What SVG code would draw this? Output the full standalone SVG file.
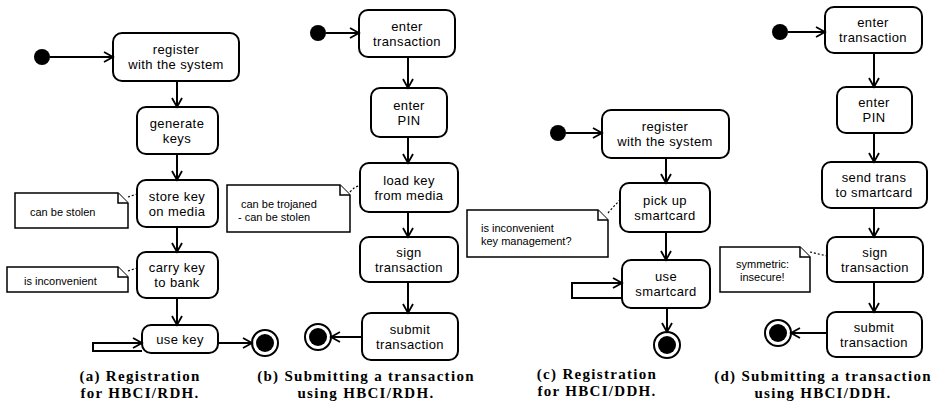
<svg xmlns="http://www.w3.org/2000/svg" width="946" height="403" viewBox="0 0 946 403">
<defs>
<marker id="arr" markerUnits="userSpaceOnUse" markerWidth="12" markerHeight="12" refX="10" refY="6" orient="auto">
<path d="M1,1 L10,6 L1,11" fill="none" stroke="#000" stroke-width="1.8"/>
</marker>
<style>
.box{fill:#fff;stroke:#000;stroke-width:2}
.t{font-family:"Liberation Sans",Arial,sans-serif;font-size:13px;letter-spacing:0.4px;text-anchor:middle;fill:#000}
.nt{font-family:"Liberation Sans",Arial,sans-serif;font-size:11px;fill:#000}
.note{fill:#fff;stroke:#000;stroke-width:1.5}
.c{fill:none;stroke:#000;stroke-width:2;marker-end:url(#arr)}
.d{fill:none;stroke:#000;stroke-width:1.2;stroke-dasharray:2 2}
.cap{font-family:"Liberation Serif","Times New Roman",serif;font-size:15px;font-weight:bold;text-anchor:middle;fill:#000;letter-spacing:1.3px}
.start{fill:#000}
.endo{fill:#fff;stroke:#000;stroke-width:2}
</style>
</defs>
<rect width="946" height="403" fill="#fff"/>

<!-- Panel (a) -->
<g id="a_start"><circle class="start" cx="42" cy="57" r="8"/></g>
<g id="a_register"><rect class="box" x="113" y="33" width="126" height="48" rx="9"/><text class="t" x="176" y="54">register</text><text class="t" x="176" y="69">with the system</text></g>
<g id="a_generate"><rect class="box" x="137" y="107" width="81" height="47" rx="9"/><text class="t" x="177" y="128">generate</text><text class="t" x="177" y="143">keys</text></g>
<g id="a_store"><rect class="box" x="137" y="180" width="81" height="47" rx="9"/><text class="t" x="177" y="201">store key</text><text class="t" x="177" y="216">on media</text></g>
<g id="a_carry"><rect class="box" x="137" y="252" width="81" height="46" rx="9"/><text class="t" x="177" y="272">carry key</text><text class="t" x="177" y="287">to bank</text></g>
<g id="a_use"><rect class="box" x="142" y="325" width="76" height="28" rx="9"/><text class="t" x="180" y="344">use key</text></g>
<g id="a_end"><circle class="endo" cx="265" cy="343" r="13"/><circle class="start" cx="265" cy="343" r="9"/></g>
<g id="a_note1"><path class="note" d="M15,193 H118 L128,203 V228 H15 Z"/><path class="note" d="M118,193 V203 H128" fill="none"/><text class="nt" x="30" y="216">can be stolen</text></g>
<g id="a_note2"><path class="note" d="M7,267 H118 L128,277 V292 H7 Z"/><path class="note" d="M118,267 V277 H128" fill="none"/><text class="nt" x="24" y="285">is inconvenient</text></g>

<!-- Panel (b) -->
<g id="b_start"><circle class="start" cx="318" cy="33" r="8"/></g>
<g id="b_enter"><rect class="box" x="359" y="10" width="96" height="47" rx="9"/><text class="t" x="407" y="31">enter</text><text class="t" x="407" y="46">transaction</text></g>
<g id="b_pin"><rect class="box" x="371" y="88" width="76" height="49" rx="9"/><text class="t" x="409" y="110">enter</text><text class="t" x="409" y="125">PIN</text></g>
<g id="b_load"><rect class="box" x="360" y="163" width="98" height="49" rx="9"/><text class="t" x="409" y="185">load key</text><text class="t" x="409" y="200">from media</text></g>
<g id="b_sign"><rect class="box" x="360" y="237" width="98" height="45" rx="9"/><text class="t" x="409" y="257">sign</text><text class="t" x="409" y="272">transaction</text></g>
<g id="b_submit"><rect class="box" x="362" y="313" width="96" height="47" rx="9"/><text class="t" x="410" y="334">submit</text><text class="t" x="410" y="349">transaction</text></g>
<g id="b_end"><circle class="endo" cx="318" cy="337" r="13"/><circle class="start" cx="318" cy="337" r="9"/></g>
<g id="b_note"><path class="note" d="M227,185 H340 L350,195 V232 H227 Z"/><path class="note" d="M340,185 V195 H350" fill="none"/><text class="nt" x="241" y="208">can be trojaned</text><text class="nt" x="238" y="221">- can be stolen</text></g>

<!-- Panel (c) -->
<g id="c_start"><circle class="start" cx="558" cy="133" r="8"/></g>
<g id="c_register"><rect class="box" x="602" y="110" width="127" height="48" rx="9"/><text class="t" x="665" y="131">register</text><text class="t" x="665" y="146">with the system</text></g>
<g id="c_pick"><rect class="box" x="620" y="183" width="90" height="49" rx="9"/><text class="t" x="665" y="205">pick up</text><text class="t" x="665" y="220">smartcard</text></g>
<g id="c_use"><rect class="box" x="622" y="260" width="88" height="48" rx="9"/><text class="t" x="666" y="281">use</text><text class="t" x="666" y="296">smartcard</text></g>
<g id="c_end"><circle class="endo" cx="667" cy="345" r="13"/><circle class="start" cx="667" cy="345" r="9"/></g>
<g id="c_note"><path class="note" d="M467,210 H598 L608,220 V257 H467 Z"/><path class="note" d="M598,210 V220 H608" fill="none"/><text class="nt" x="481" y="232">is inconvenient</text><text class="nt" x="481" y="245">key management?</text></g>

<!-- Panel (d) -->
<g id="d_start"><circle class="start" cx="780" cy="32" r="8"/></g>
<g id="d_enter"><rect class="box" x="825" y="7" width="97" height="46" rx="9"/><text class="t" x="873" y="27">enter</text><text class="t" x="873" y="42">transaction</text></g>
<g id="d_pin"><rect class="box" x="837" y="87" width="75" height="46" rx="9"/><text class="t" x="874" y="107">enter</text><text class="t" x="874" y="122">PIN</text></g>
<g id="d_send"><rect class="box" x="822" y="162" width="105" height="46" rx="9"/><text class="t" x="874" y="182">send trans</text><text class="t" x="874" y="197">to smartcard</text></g>
<g id="d_sign"><rect class="box" x="827" y="237" width="96" height="45" rx="9"/><text class="t" x="875" y="257">sign</text><text class="t" x="875" y="272">transaction</text></g>
<g id="d_submit"><rect class="box" x="827" y="312" width="95" height="45" rx="9"/><text class="t" x="874" y="332">submit</text><text class="t" x="874" y="347">transaction</text></g>
<g id="d_end"><circle class="endo" cx="778" cy="333" r="13"/><circle class="start" cx="778" cy="333" r="9"/></g>
<g id="d_note"><path class="note" d="M720,247 H800 L810,257 V292 H720 Z"/><path class="note" d="M800,247 V257 H810" fill="none"/><text class="nt" x="736" y="268">symmetric:</text><text class="nt" x="740" y="281">insecure!</text></g>

<!-- Connectors -->
<g id="connectors">
<line class="c" x1="50" y1="57" x2="113" y2="57"/>
<line class="c" x1="177" y1="81" x2="177" y2="107"/>
<line class="c" x1="177" y1="154" x2="177" y2="180"/>
<line class="c" x1="177" y1="227" x2="177" y2="252"/>
<line class="c" x1="177" y1="298" x2="177" y2="325"/>
<path class="c" d="M142,351 H93 V343 H142"/>
<line class="c" x1="218" y1="343" x2="252" y2="343"/>
<path class="d" d="M128,197 L137,194"/>
<path class="d" d="M128,271 L137,268"/>

<line class="c" x1="326" y1="33" x2="359" y2="33"/>
<line class="c" x1="408" y1="57" x2="408" y2="88"/>
<line class="c" x1="408" y1="137" x2="408" y2="163"/>
<line class="c" x1="408" y1="212" x2="408" y2="237"/>
<line class="c" x1="408" y1="282" x2="408" y2="313"/>
<line class="c" x1="362" y1="337" x2="331" y2="337"/>
<path class="d" d="M350,192 Q355,186 360,186"/>

<line class="c" x1="566" y1="133" x2="602" y2="133"/>
<line class="c" x1="666" y1="158" x2="666" y2="183"/>
<line class="c" x1="666" y1="232" x2="666" y2="260"/>
<path class="c" d="M622,298 H572 V283 H622"/>
<line class="c" x1="667" y1="308" x2="667" y2="332"/>
<path class="d" d="M608,213 Q614,206 620,200"/>

<line class="c" x1="788" y1="32" x2="825" y2="32"/>
<line class="c" x1="874" y1="53" x2="874" y2="87"/>
<line class="c" x1="874" y1="133" x2="874" y2="162"/>
<line class="c" x1="874" y1="208" x2="874" y2="237"/>
<line class="c" x1="874" y1="282" x2="874" y2="312"/>
<line class="c" x1="827" y1="333" x2="791" y2="333"/>
<path class="d" d="M810,252 L827,256"/>
</g>

<!-- Captions -->
<g id="captions">
<text class="cap" x="140" y="381">(a) Registration</text>
<text class="cap" x="140" y="398">for HBCI/RDH.</text>
<text class="cap" x="366" y="381">(b) Submitting a transaction</text>
<text class="cap" x="366" y="398">using HBCI/RDH.</text>
<text class="cap" x="597" y="379">(c) Registration</text>
<text class="cap" x="597" y="396">for HBCI/DDH.</text>
<text class="cap" x="823" y="381">(d) Submitting a transaction</text>
<text class="cap" x="823" y="398">using HBCI/DDH.</text>
</g>
</svg>
